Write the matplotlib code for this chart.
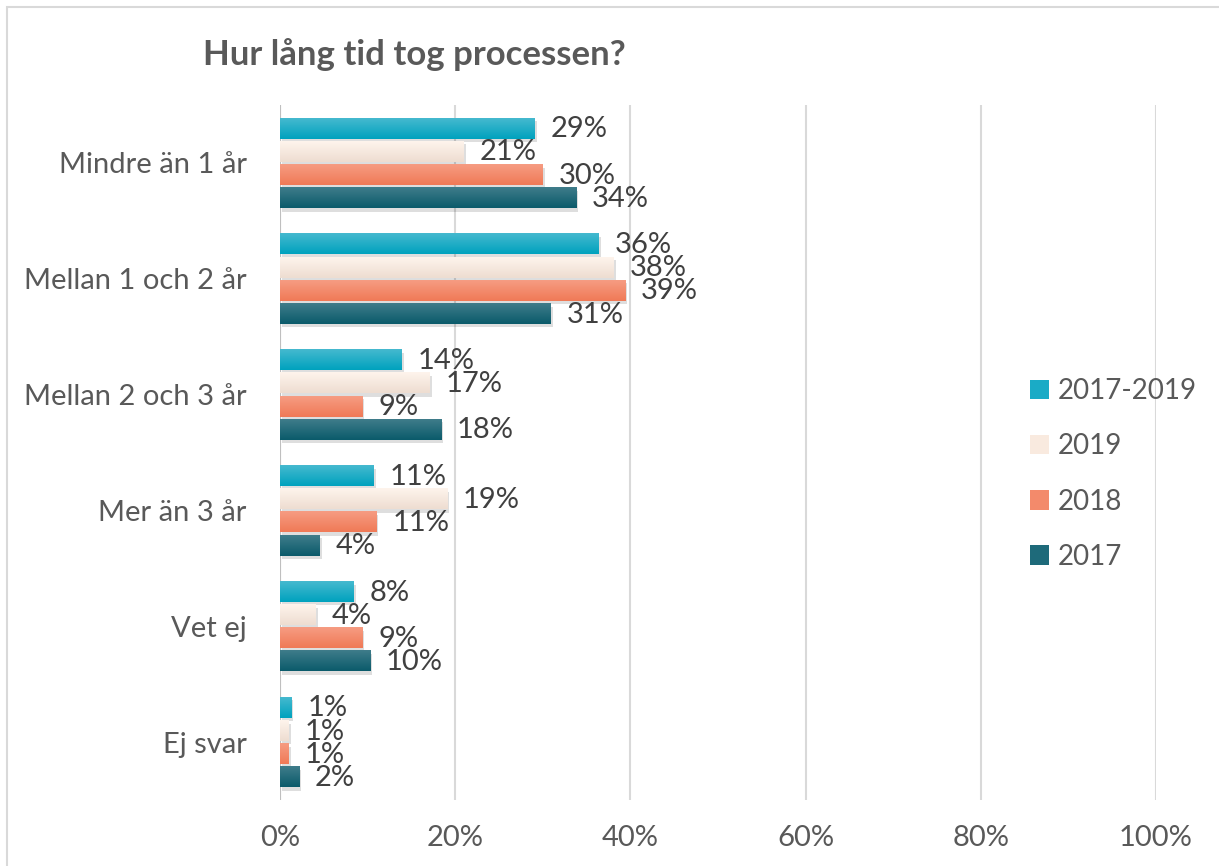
import matplotlib
matplotlib.use("Agg")
import matplotlib.pyplot as plt
import numpy as np
from matplotlib import patheffects as pe
from matplotlib.colors import to_rgb
from matplotlib.patches import Rectangle

categories = ["Mindre än 1 år", "Mellan 1 och 2 år", "Mellan 2 och 3 år",
              "Mer än 3 år", "Vet ej", "Ej svar"]
series_names = ["2017-2019", "2019", "2018", "2017"]
v_2017_2019 = [29.1, 36.4, 13.9, 10.7, 8.4, 1.3]
v_2019 = [21.0, 38.1, 17.1, 19.1, 4.1, 1.0]
v_2018 = [30.0, 39.4, 9.4, 11.0, 9.4, 1.0]
v_2017 = [33.8, 30.9, 18.4, 4.5, 10.3, 2.2]
labels_2017_2019 = ["29%", "36%", "14%", "11%", "8%", "1%"]
labels_2019 = ["21%", "38%", "17%", "19%", "4%", "1%"]
labels_2018 = ["30%", "39%", "9%", "11%", "9%", "1%"]
labels_2017 = ["34%", "31%", "18%", "4%", "10%", "2%"]
xticks = [0, 20, 40, 60, 80, 100]
xtick_labels = ["0%", "20%", "40%", "60%", "80%", "100%"]

series_values = [v_2017_2019, v_2019, v_2018, v_2017]
series_labels = [labels_2017_2019, labels_2019, labels_2018, labels_2017]
# (top colour, bottom colour) for a vertical gradient
grad = [("#45B9CF", "#00A2BE"),
        ("#FEF4EC", "#EEDDD1"),
        ("#F69C82", "#F07A57"),
        ("#3F7C8A", "#0B5B6B")]
mid = ["#1AABC6", "#F9EADF", "#F38A6B", "#1E6A7A"]

plt.rcParams['font.family'] = ['Lato', 'DejaVu Sans']

W, H = 1219, 866
fig = plt.figure(figsize=(W / 100, H / 100), dpi=100)
# outer chart border
fig.patches.append(Rectangle((7 / W, -0.01), 1.2, 1 - 7 / H + 0.01, transform=fig.transFigure,
                             fill=False, edgecolor="#D9D9D9", linewidth=1.5))

ax = fig.add_axes([280 / W, 1 - 800 / H, (1156 - 280) / W, (800 - 105) / H])
ax.set_xlim(0, 100)
ax.set_ylim(len(categories) - 0.5, -0.5)

offsets = [-0.3, -0.1, 0.1, 0.3]
bh = 0.18
y = np.arange(len(categories))
txtcol = "#404040"
for si, (vals, labs) in enumerate(zip(series_values, series_labels)):
    bars = ax.barh(y + offsets[si], vals, height=bh, color=mid[si], zorder=3,
                   label=series_names[si],
                   path_effects=[pe.SimplePatchShadow(offset=(1.5, -2.5), shadow_rgbFace="#000000", alpha=0.13),
                                 pe.Normal()])
    c1 = np.array(to_rgb(grad[si][0]))
    c2 = np.array(to_rgb(grad[si][1]))
    t = np.linspace(0, 1, 32)[:, None]
    img = (c1 * (1 - t) + c2 * t)[:, None, :]
    for b, lab in zip(bars, labs):
        x0, y0, w, h = b.get_x(), b.get_y(), b.get_width(), b.get_height()
        ax.imshow(img, extent=(x0, x0 + w, y0 + h, y0), aspect='auto', zorder=4,
                  interpolation='bilinear')
        ax.text(x0 + w + 1.8, y0 + h / 2 + 0.01, lab, va='center', ha='left',
                fontsize=21, color=txtcol, zorder=5)

ax.set_xlim(0, 100)
ax.set_ylim(len(categories) - 0.5, -0.5)
ax.set_xticks(xticks)
ax.set_xticklabels(xtick_labels)
ax.set_yticks(y)
ax.set_yticklabels(categories)
ax.tick_params(axis='both', length=0, labelsize=21, labelcolor="#595959")
ax.tick_params(axis='x', pad=18)
ax.tick_params(axis='y', pad=24)
ax.grid(axis='x', color="#D9D9D9", linewidth=1.5, zorder=0)
for s in ax.spines.values():
    s.set_visible(False)
ax.axvline(0, color="#BFBFBF", linewidth=1.5, zorder=2)

handles, labels = ax.get_legend_handles_labels()
leg = fig.legend(handles, labels, loc='center left',
                 bbox_to_anchor=(1005 / W, 1 - 474 / H), frameon=False,
                 fontsize=20, labelspacing=1.05, handlelength=0.7, handleheight=0.7,
                 handletextpad=0.3, labelcolor="#595959")
for h in leg.legend_handles:
    h.set_path_effects([])

fig.text(203 / W, 1 - 55 / H, "Hur lång tid tog processen?", fontsize=25,
         fontweight='bold', color="#595959", ha='left', va='center')

fig.savefig("out.png", dpi=100)
